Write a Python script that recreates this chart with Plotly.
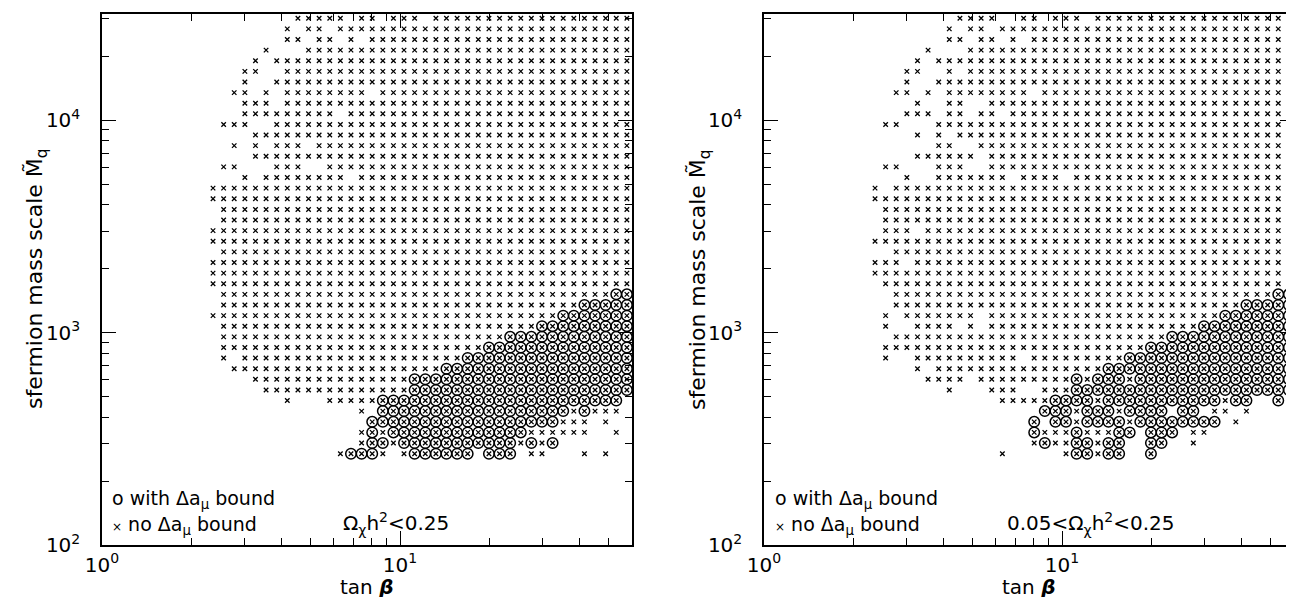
import math
import plotly.graph_objects as go

FONT = "DejaVu Sans"

# tan(beta) grid columns (c0..c39)
TANB = [2.358, 2.559, 2.777, 3.015, 3.273, 3.552, 3.856, 4.185, 4.543, 4.931,
        5.352, 5.809, 6.306, 6.844, 7.429, 8.064, 8.752, 9.500, 10.31, 11.19,
        12.15, 13.19, 14.31, 15.54, 16.86, 18.30, 19.87, 21.56, 23.41, 25.41,
        27.57, 29.93, 32.49, 35.27, 38.28, 41.55, 45.10, 48.95, 53.13, 57.67]

# sfermion mass scale grid rows (r0 top .. r41 bottom)
MSQ = [30200, 26920, 23990, 21380, 19050, 16980, 15140, 13490, 12020, 10720,
       9550, 8510, 7590, 6760, 6030, 5370, 4790, 4270, 3800, 3390,
       3020, 2690, 2400, 2140, 1905, 1698, 1514, 1349, 1202, 1072,
       955, 851, 759, 676, 603, 537, 479, 427, 380, 339, 302, 269]

# Left panel: Omega h^2 < 0.25 ; per row: columns without / with Delta a_mu bound
LEFT_NO = ["8-12,14-15,17-19,21-39", "7,9-10,12-39", "7-8,10-11,13,15-39", "5,9-39",
           "4,6-39", "3-4,7-39", "3,6-39", "2-3,5,7-14,16-39", "3-5,7-39",
           "3-11,13-39", "1-3,6-39", "4-39", "2,4,6-8,10-39", "4-39",
           "1-2,6-8,11-39", "3,5-12,14-39", "0-39", "0-39", "1-39", "1-39",
           "0-39", "0-39", "1-39", "0-39", "0-39", "0-39", "1-37", "1-34",
           "0-32", "1-30", "1-27", "1-25", "1,3-23", "2-21", "4-18", "5-18",
           "7,11-15", "14,34,36-38", "33-35,37", "14,16,30-35,38",
           "14,17,29,31", "12,16,18,30-31,35,37"]
LEFT_WITH = ["", "", "", "", "", "", "", "", "", "", "", "", "", "", "", "", "",
             "", "", "", "", "", "", "", "", "", "38-39", "35-39", "33-39",
             "31-39", "28-39", "26-39", "24-39", "22-39", "19-39", "19-39",
             "16-38", "16-33,35", "15-32", "15,17-29", "15-16,18-28,30,32",
             "13-15,19-24,26-28"]

# Right panel: 0.05 < Omega h^2 < 0.25
RIGHT_NO = ["8-11,14-15,17-19,21-39", "7,9-10,12-39", "7-8,10-11,13,15-39", "5,9-39",
            "4,6-39", "3-4,7,9-39", "3,6-39", "2-3,5,7-14,16-39", "4,7-8,11-39",
            "3-5,7-8,10-11,13-39", "1-2,6-39", "4,6,8-39", "6-7,10-39",
            "4-9,11-39", "1-2,6-8,11-39", "3,6-12,14-17,19-39", "0,2-39",
            "0-39", "1-39", "1-39", "1-3,5-39", "0-39", "2-39", "0-2,4-39",
            "0-39", "1-39", "2-37", "2-34", "1,3-9,11-32", "1,4-7,9,11-30",
            "2-27", "1-25", "1,4-13,15-23", "4,6-21", "5-8,10-18,20,24",
            "7,11-13,16-18", "12-16,21,33", "19,23,32-33,35", "19,24,34",
            "16-18,20-22,30-31", "15,17-18,21,30", "12,18,21"]
RIGHT_WITH = ["", "", "", "", "", "", "", "", "", "", "", "", "", "", "", "", "",
              "", "", "", "", "", "", "", "", "", "38-39", "35-39", "33-39",
              "31-39", "28-39", "26-39", "24-39", "22-39", "19,21-23,25-39",
              "19-39", "17-20,22-32,34-35,38", "16-18,20-22,24-27,29-30",
              "15,17-18,20-23,25-32", "15,19,23-24,26-28",
              "16,19-20,22-23,26-27", "19-20,22-23,26"]


def cols(spec):
    out = []
    for part in spec.split(","):
        part = part.strip()
        if not part:
            continue
        if "-" in part:
            a, b = part.split("-")
            out.extend(range(int(a), int(b) + 1))
        else:
            out.append(int(part))
    return out


def points(no_rows, with_rows):
    ax, ay, cx, cy = [], [], [], []
    for r, (s_no, s_with) in enumerate(zip(no_rows, with_rows)):
        for c in cols(s_no):
            ax.append(TANB[c]); ay.append(MSQ[r])
        for c in cols(s_with):
            ax.append(TANB[c]); ay.append(MSQ[r])
            cx.append(TANB[c]); cy.append(MSQ[r])
    return ax, ay, cx, cy


fig = go.Figure()
for no_rows, with_rows, xa, ya in [(LEFT_NO, LEFT_WITH, "x", "y"),
                                   (RIGHT_NO, RIGHT_WITH, "x2", "y2")]:
    ax, ay, cx, cy = points(no_rows, with_rows)
    fig.add_trace(go.Scatter(x=ax, y=ay, mode="markers", xaxis=xa, yaxis=ya,
                             marker=dict(symbol="x-thin", size=4.5, color="black",
                                         line=dict(color="black", width=1.3)),
                             showlegend=False, hoverinfo="skip"))
    fig.add_trace(go.Scatter(x=cx, y=cy, mode="markers", xaxis=xa, yaxis=ya,
                             marker=dict(symbol="circle-open", size=10.5, color="black",
                                         line=dict(color="black", width=1.5)),
                             showlegend=False, hoverinfo="skip"))

tfont = dict(family=FONT, size=20, color="black")
afont = dict(family=FONT, size=19, color="black")


def axis_common():
    return dict(type="log", showline=True, linecolor="black", linewidth=1.5,
                mirror="ticks", ticks="inside", ticklen=14, tickwidth=1.3,
                tickcolor="black", showgrid=False, zeroline=False,
                tickfont=tfont, automargin=False)


XMINOR = [2, 3, 4, 5, 6, 7, 8, 9, 20, 30, 40, 50]
YMINOR = [200, 300, 400, 500, 600, 700, 800, 900, 2000, 3000, 4000, 5000,
          6000, 7000, 8000, 9000, 20000, 30000]

xcfg = axis_common()
xcfg.update(range=[0, math.log10(60)], tickmode="array", tickvals=[1, 10],
            ticktext=["10<sup>0</sup>", "10<sup>1</sup>"], ticklabelstandoff=1,
            minor=dict(ticks="inside", ticklen=7, tickwidth=1.2, tickcolor="black",
                       tickmode="array", tickvals=XMINOR, showgrid=False))
ycfg = axis_common()
ycfg.update(range=[2, 4.5], tickmode="array", tickvals=[100, 1000, 10000],
            ticktext=["10<sup>2</sup>", "10<sup>3</sup>", "10<sup>4</sup>"],
            ticklabelstandoff=16,
            minor=dict(ticks="inside", ticklen=7, tickwidth=1.2, tickcolor="black",
                       tickmode="array", tickvals=YMINOR, showgrid=False))

W, H = 1294, 597
xl = [94 / W, 624 / W]
xr = [756 / W, 1286 / W]
yd = [1 - 537 / H, 1 - 6 / H]

fig.update_layout(
    width=W, height=H, margin=dict(l=0, r=0, t=0, b=0), autosize=False,
    plot_bgcolor="white", paper_bgcolor="white",
    font=tfont,
    xaxis=dict(xcfg, domain=xl, anchor="y"),
    yaxis=dict(ycfg, domain=yd, anchor="x"),
    xaxis2=dict(xcfg, domain=xr, anchor="y2"),
    yaxis2=dict(ycfg, domain=yd, anchor="x2"),
)

ann = []
for cx_title in [358, 1020]:
    ann.append(dict(text="tan <b><i>β</i></b>", x=cx_title / W, y=1 - 579 / H,
                    xref="paper", yref="paper", showarrow=False, font=tfont,
                    xanchor="center", yanchor="middle"))
for xt in [28, 691]:
    ann.append(dict(text="sfermion mass scale M\u0303<sub>q</sub>", x=xt / W,
                    y=1 - 271 / H, xref="paper", yref="paper", showarrow=False,
                    font=dict(family=FONT, size=22, color="black"), textangle=-90,
                    xanchor="center", yanchor="middle"))
for x0 in [102, 765]:
    ann.append(dict(text="o with Δa<sub>μ</sub> bound", x=x0 / W, y=1 - 491 / H,
                    xref="paper", yref="paper", showarrow=False, font=afont,
                    xanchor="left", yanchor="middle"))
    ann.append(dict(text="<span style='font-size:12px'>×</span> no Δa<sub>μ</sub> bound",
                    x=x0 / W, y=1 - 517 / H,
                    xref="paper", yref="paper", showarrow=False, font=afont,
                    xanchor="left", yanchor="middle"))
ann.append(dict(text="Ω<sub>χ</sub>h<sup>2</sup>&lt;0.25", x=333 / W, y=1 - 515 / H,
                xref="paper", yref="paper", showarrow=False, font=tfont,
                xanchor="left", yanchor="middle"))
ann.append(dict(text="0.05&lt;Ω<sub>χ</sub>h<sup>2</sup>&lt;0.25", x=997 / W, y=1 - 515 / H,
                xref="paper", yref="paper", showarrow=False, font=tfont,
                xanchor="left", yanchor="middle"))
fig.update_layout(annotations=ann)

fig.write_html("out.html")
